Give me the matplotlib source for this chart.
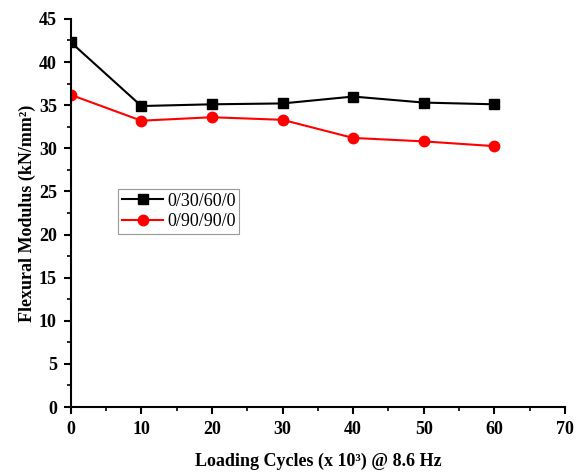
import matplotlib
matplotlib.use("Agg")
import matplotlib.pyplot as plt
from matplotlib.ticker import MultipleLocator

cycles = [0, 10, 20, 30, 40, 50, 60]
s1_label = "0/30/60/0"
s1 = [42.3, 34.9, 35.1, 35.2, 36.0, 35.3, 35.1]
s2_label = "0/90/90/0"
s2 = [36.2, 33.2, 33.6, 33.3, 31.2, 30.8, 30.25]

plt.rcParams['font.family'] = ['Liberation Serif', 'DejaVu Serif']
fig = plt.figure(figsize=(5.8, 4.73), dpi=100)
ax = fig.add_axes([0.122, 0.1395, 0.852, 0.8205])

ax.plot(cycles, s1, color='black', marker='s', markersize=6.5, linewidth=1.5, label=s1_label)
ax.plot(cycles, s2, color='red', marker='o', markersize=7.5, linewidth=1.5, label=s2_label)

ax.set_xlim(0, 70)
ax.set_ylim(0, 45)
ax.xaxis.set_major_locator(MultipleLocator(10))
ax.xaxis.set_minor_locator(MultipleLocator(5))
ax.yaxis.set_major_locator(MultipleLocator(5))
ax.yaxis.set_minor_locator(MultipleLocator(2.5))
ax.spines['top'].set_visible(False)
ax.spines['right'].set_visible(False)
for sp in ('left', 'bottom'):
    ax.spines[sp].set_linewidth(1.5)
ax.tick_params(which='major', direction='out', length=5, width=1.5, labelsize=13, pad=5)
ax.tick_params(which='minor', direction='out', length=3, width=1.2)
for lbl in ax.get_xticklabels() + ax.get_yticklabels():
    lbl.set_fontweight('bold')

ax.set_xlabel("Loading Cycles (x 10³) @ 8.6 Hz", fontsize=13, fontweight='bold', labelpad=11)
ax.set_ylabel("Flexural Modulus (kN/mm²)", fontsize=13, fontweight='bold', labelpad=2)

leg = ax.legend(loc='upper left', bbox_to_anchor=(0.096, 0.562), fontsize=13, frameon=True,
                fancybox=False, edgecolor='gray', handlelength=2.3, handletextpad=0.2,
                borderpad=0.2, labelspacing=0.2, borderaxespad=0)
leg.get_frame().set_linewidth(0.8)

fig.savefig("out.png", dpi=100)
